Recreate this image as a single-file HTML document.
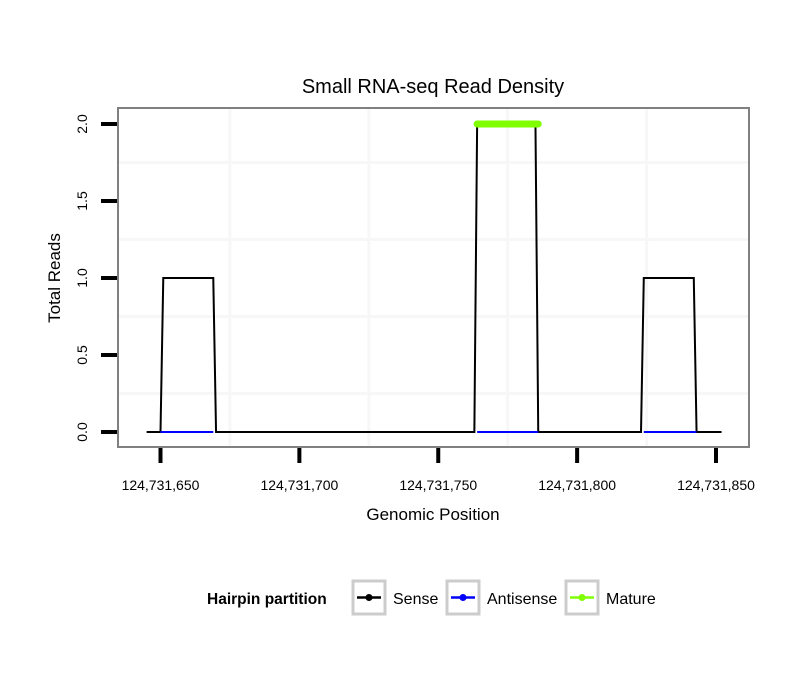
<!DOCTYPE html>
<html><head><meta charset="utf-8"><style>
body{margin:0;background:#fff;}
svg text{font-family:"Liberation Sans",Arial,sans-serif;}
</style></head><body>
<svg id="chart" width="810" height="690" xmlns="http://www.w3.org/2000/svg">
<rect width="810" height="690" fill="#fff"/>
<text x="433" y="93" font-size="20" text-anchor="middle">Small RNA-seq Read Density</text>
<g id="grid"></g>
<g id="series"></g>
<rect x="118" y="108" width="631" height="339" fill="none" stroke="#808080" stroke-width="2"/>
<g id="axes"></g>
<text x="433" y="520" font-size="17" text-anchor="middle">Genomic Position</text>
<text transform="translate(60,278) rotate(-90)" font-size="17" text-anchor="middle">Total Reads</text>
<g>
<text x="207" y="604" font-size="15.5" font-weight="bold">Hairpin partition</text>
<g>
<rect x="353" y="581" width="32" height="33" fill="#fff" stroke="#cccccc" stroke-width="3"/>
<line x1="357" y1="597.5" x2="381" y2="597.5" stroke="#000" stroke-width="2.5"/><circle cx="369" cy="597.5" r="3.5" fill="#000"/>
<text x="393" y="604" font-size="16">Sense</text></g>
<g>
<rect x="447" y="581" width="32" height="33" fill="#fff" stroke="#cccccc" stroke-width="3"/>
<line x1="451" y1="597.5" x2="475" y2="597.5" stroke="#0000ff" stroke-width="2.5"/><circle cx="463" cy="597.5" r="3.5" fill="#0000ff"/>
<text x="487" y="604" font-size="16">Antisense</text></g>
<g>
<rect x="566" y="581" width="32" height="33" fill="#fff" stroke="#cccccc" stroke-width="3"/>
<line x1="570" y1="597.5" x2="594" y2="597.5" stroke="#7fff00" stroke-width="2.5"/><circle cx="582" cy="597.5" r="3.5" fill="#7fff00"/>
<text x="606" y="604" font-size="16">Mature</text></g>
</g>
</svg>
<script>
const senseX=[124731645,124731650,124731651,124731669,124731670,124731763,124731764,124731785,124731786,124731823,124731824,124731842,124731843,124731852];
const senseY=[0,0,1,1,0,0,2,2,0,0,1,1,0,0];
const antisenseSegs=[[124731650,124731669],[124731764,124731786],[124731824,124731843]];
const matureX=[124731764,124731786];
const matureY=[2,2];
const xTicks=[124731650,124731700,124731750,124731800,124731850];
const xTickLabels=["124,731,650","124,731,700","124,731,750","124,731,800","124,731,850"];
const yTicks=[0,0.5,1,1.5,2];
const yTickLabels=["0.0","0.5","1.0","1.5","2.0"];
const xMinor=[124731675,124731725,124731775,124731825];
const yMinor=[0.25,0.75,1.25,1.75];

const NS="http://www.w3.org/2000/svg";
function X(v){return 160.5+(v-124731650)*(716-160.5)/200;}
function Y(v){return 432-v*154;}
function mk(tag,attrs,parent){const e=document.createElementNS(NS,tag);for(const k in attrs)e.setAttribute(k,attrs[k]);parent.appendChild(e);return e;}
const grid=document.getElementById('grid'),series=document.getElementById('series'),axes=document.getElementById('axes');
xMinor.forEach(v=>{const l=mk('line',{x1:X(v),x2:X(v),y1:109,y2:446,stroke:'#f7f7f7','stroke-width':3},grid);

});
yMinor.forEach(v=>{const l=mk('line',{x1:119,x2:748,y1:Y(v),y2:Y(v),stroke:'#f7f7f7','stroke-width':3},grid);

});
const sp=mk('polyline',{points:senseX.map((x,i)=>X(x)+','+Y(senseY[i])).join(' '),fill:'none',stroke:'#000','stroke-width':2},series);


antisenseSegs.forEach(s=>{const l=mk('line',{x1:X(s[0]),x2:X(s[1]),y1:Y(0),y2:Y(0),stroke:'#0000ff','stroke-width':2},series);

});
const mp=mk('line',{x1:X(matureX[0]),x2:X(matureX[1]),y1:Y(matureY[0]),y2:Y(matureY[1]),stroke:'#7fff00','stroke-width':7,'stroke-linecap':'round'},series);


xTicks.forEach((v,i)=>{const t=mk('line',{x1:X(v),x2:X(v),y1:448,y2:463,stroke:'#000','stroke-width':4},axes);


const tx=mk('text',{x:X(v),y:490,'font-size':14,'text-anchor':'middle'},axes);tx.textContent=xTickLabels[i];

});
yTicks.forEach((v,i)=>{const t=mk('line',{x1:101,x2:117,y1:Y(v),y2:Y(v),stroke:'#000','stroke-width':4},axes);


const tx=mk('text',{transform:`translate(87,${Y(v)}) rotate(-90)`,'font-size':14,'text-anchor':'middle'},axes);tx.textContent=yTickLabels[i];

});
</script>
</body></html>
